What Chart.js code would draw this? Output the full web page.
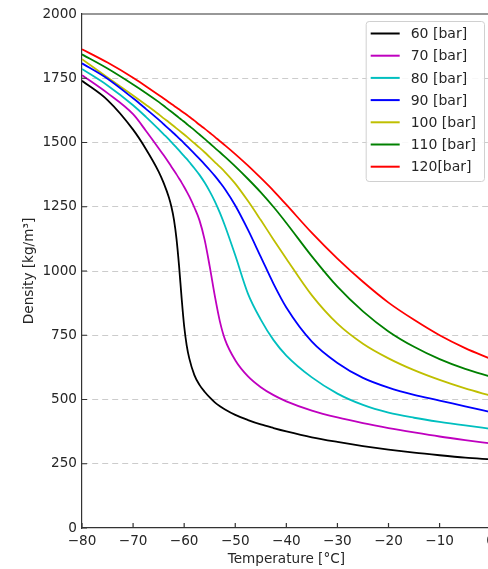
<!DOCTYPE html>
<html>
<head>
<meta charset="utf-8">
<script src="https://cdn.jsdelivr.net/npm/chart.js@4.4.1/dist/chart.umd.min.js"></script>
<style>
html, body { margin: 0; padding: 0; overflow: hidden; background: #fff; }
canvas { display: block; }
</style>
</head>
<body>
<canvas id="densityChart" width="500" height="569"></canvas>
<script>
// Temperature [°C] and density [kg/m3]
const temperatures = [-80, -75, -70, -67.5, -65, -64, -63, -62.5, -62, -61.5, -61, -60.5, -60, -59.5, -59, -58, -57, -56, -55, -54, -53, -52, -50, -47.5, -45, -42.5, -40, -35, -30, -25, -20, -15, -10, -5, 0];
const rho60  = [1740, 1665, 1550, 1475, 1387, 1342, 1287, 1250, 1200, 1125, 1020, 895, 785, 710, 660, 595, 557, 530, 508, 489, 474, 461, 440, 420, 403, 389, 376, 353, 335, 319, 305, 293, 283, 274, 267];
const rho70  = [1762, 1692, 1610, 1546, 1478, 1450, 1421, 1406, 1391, 1376, 1360, 1344, 1327, 1309, 1290, 1247, 1197, 1122, 1018, 903, 803, 733, 653, 590, 548, 517, 493, 457, 430, 408, 389, 372, 356, 342, 329];
const rho80  = [1786, 1722, 1645, 1600, 1552, 1532, 1512, 1501, 1491, 1480, 1469, 1458, 1447, 1436, 1424, 1400, 1374, 1344, 1310, 1271, 1226, 1175, 1061, 911, 811, 731, 671, 586, 523, 479, 449, 429, 413, 399, 386];
const rho90  = [1808, 1748, 1672, 1631, 1589, 1571, 1553, 1544, 1535, 1526, 1516, 1507, 1497, 1487, 1477, 1457, 1436, 1415, 1393, 1370, 1345, 1318, 1255, 1160, 1055, 950, 858, 725, 642, 584, 546, 518, 496, 473, 451];
const rho100 = [1824, 1753, 1683, 1647, 1610, 1594, 1579, 1571, 1563, 1555, 1547, 1539, 1531, 1523, 1514, 1497, 1480, 1462, 1443, 1424, 1405, 1385, 1340, 1272, 1198, 1122, 1048, 905, 795, 717, 660, 614, 576, 543, 515];
const rho110 = [1843, 1788, 1726, 1693, 1658, 1643, 1627, 1620, 1612, 1604, 1596, 1588, 1581, 1572, 1564, 1548, 1531, 1514, 1497, 1479, 1462, 1444, 1407, 1358, 1306, 1249, 1187, 1057, 939, 843, 765, 705, 657, 619, 589];
const rho120 = [1863, 1811, 1752, 1719, 1685, 1671, 1657, 1650, 1643, 1636, 1629, 1622, 1615, 1608, 1600, 1585, 1569, 1554, 1538, 1522, 1505, 1489, 1455, 1410, 1362, 1312, 1258, 1148, 1048, 958, 877, 810, 750, 700, 658];

const seriesLabels = ["60 [bar]", "70 [bar]", "80 [bar]", "90 [bar]", "100 [bar]", "110 [bar]", "120[bar]"];
const seriesValues = [rho60, rho70, rho80, rho90, rho100, rho110, rho120];
const seriesColors = ["#000000", "#bf00bf", "#00bfbf", "#0000ff", "#bfbf00", "#008000", "#ff0000"];

const FONT = "'DejaVu Sans', sans-serif";
const TEXT = "#262626";

function minusLabel(v) {
    return v < 0 ? "\u2212" + Math.abs(v) : String(v);
}

// ticks pointing inwards plus the top/right frame
const innerTicks = {
    id: "innerTicks",
    afterDatasetsDraw(chart) {
        const { ctx, chartArea: a, scales: { x, y } } = chart;
        ctx.save();
        ctx.strokeStyle = "#333";
        ctx.lineWidth = 1.2;
        ctx.beginPath();
        ctx.moveTo(a.left, a.top);
        ctx.lineTo(a.right, a.top);
        ctx.lineTo(a.right, a.bottom);
        x.ticks.forEach(t => {
            const px = x.getPixelForValue(t.value);
            ctx.moveTo(px, a.bottom);
            ctx.lineTo(px, a.bottom - 5);
        });
        y.ticks.forEach(t => {
            const py = y.getPixelForValue(t.value);
            ctx.moveTo(a.left, py);
            ctx.lineTo(a.left + 5, py);
        });
        ctx.stroke();
        ctx.restore();
    }
};

// framed legend in the upper right corner
const boxLegend = {
    id: "boxLegend",
    afterDraw(chart) {
        const ctx = chart.ctx;
        const a = chart.chartArea;
        ctx.save();
        ctx.font = "14px " + FONT;
        let maxW = 0;
        chart.data.datasets.forEach(ds => { maxW = Math.max(maxW, ctx.measureText(ds.label).width); });
        const w = 5 + 29 + 11 + maxW + 8;
        const h = 160;
        const right = 484;
        const left = right - w;
        const top = a.top + 7;
        ctx.fillStyle = "rgba(255,255,255,0.85)";
        ctx.strokeStyle = "#d0d0d0";
        ctx.lineWidth = 1;
        ctx.beginPath();
        ctx.roundRect(left + 0.5, top + 0.5, w, h, 3);
        ctx.fill();
        ctx.stroke();
        ctx.textBaseline = "middle";
        chart.data.datasets.forEach((ds, i) => {
            const cy = top + 12.5 + i * 22.2;
            ctx.strokeStyle = ds.borderColor;
            ctx.lineWidth = 2;
            ctx.beginPath();
            ctx.moveTo(left + 5, cy);
            ctx.lineTo(left + 34, cy);
            ctx.stroke();
            ctx.fillStyle = TEXT;
            ctx.fillText(ds.label, left + 45, cy + 1);
        });
        ctx.restore();
    }
};

const ctx = document.getElementById("densityChart").getContext("2d");
const chart = new Chart(ctx, {
    type: "line",
    data: {
        datasets: seriesValues.map((vals, i) => ({
            label: seriesLabels[i],
            data: vals.map((v, j) => ({ x: temperatures[j], y: v })),
            borderColor: seriesColors[i],
            backgroundColor: seriesColors[i],
            borderWidth: 1.8,
            pointRadius: 0,
            cubicInterpolationMode: "monotone",
            fill: false
        }))
    },
    options: {
        responsive: false,
        animation: false,
        devicePixelRatio: 1,
        layout: { padding: { left: 21, right: 9, top: 14, bottom: 1 } },
        plugins: {
            legend: { display: false },
            tooltip: { enabled: false }
        },
        scales: {
            x: {
                type: "linear",
                min: -80,
                max: 0,
                grid: { display: false, drawTicks: false },
                border: { display: true, color: "#333", width: 1.2 },
                ticks: {
                    stepSize: 10,
                    padding: 5,
                    color: TEXT,
                    font: { family: FONT, size: 13.6 },
                    maxRotation: 0,
                    callback: v => minusLabel(v)
                },
                title: {
                    display: true,
                    text: "Temperature [°C]",
                    color: TEXT,
                    font: { family: FONT, size: 13.6 },
                    padding: { top: 2, bottom: 0 }
                },
                afterFit: s => { s.height = 40; }
            },
            y: {
                min: 0,
                max: 2000,
                grid: {
                    drawTicks: false,
                    lineWidth: 1,
                    color: c => (c.tick.value === 0 || c.tick.value === 2000) ? "rgba(0,0,0,0)" : "#cccccc"
                },
                border: { display: true, color: "#333", width: 1.2, dash: [6, 4] },
                ticks: {
                    stepSize: 250,
                    padding: 5,
                    color: TEXT,
                    font: { family: FONT, size: 13.6 },
                    callback: v => String(v)
                },
                title: {
                    display: true,
                    text: "Density [kg/m³]",
                    color: TEXT,
                    font: { family: FONT, size: 13.6 },
                    padding: { top: 0, bottom: 4 }
                },
                afterFit: s => { s.width = 61; }
            }
        }
    },
    plugins: [innerTicks, boxLegend]
});
</script>
</body>
</html>
